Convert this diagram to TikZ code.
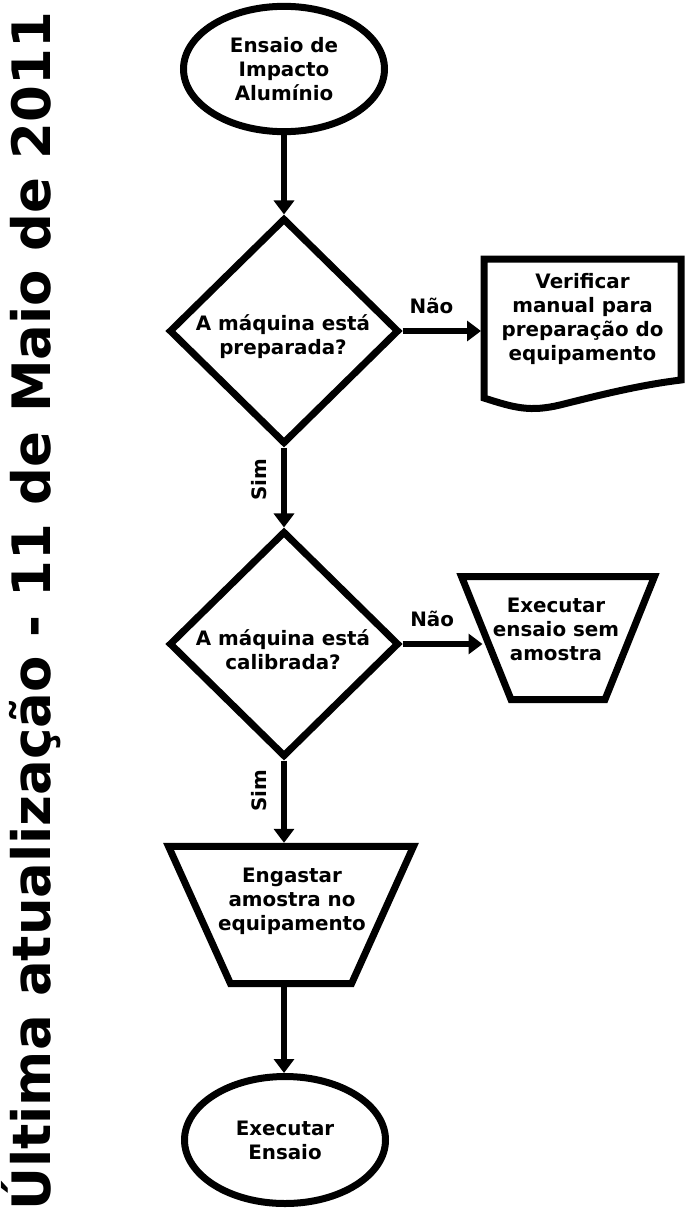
\documentclass[tikz,border=0pt]{standalone}
\usepackage{fontspec}
\setmainfont{DejaVu Sans}
\usetikzlibrary{shapes.geometric, arrows.meta, calc}

\begin{document}
\begin{tikzpicture}[
		x=0.75pt, y=-0.75pt,
		font=\fontsize{14.9pt}{18pt}\selectfont\bfseries,
		% Inicio e fim do ensaio
		terminal/.style={ellipse, draw, line width=5.25pt, inner sep=0pt, minimum width=150.75pt, minimum height=94pt, align=center},
		% Perguntas
		decisao/.style={diamond, draw, line width=5.25pt, inner sep=0pt, minimum width=172.5pt, minimum height=169.5pt},
		% Moldura das operacoes manuais e do documento (contorno desenhado a parte)
		moldura/.style={rectangle, inner sep=0pt, outer sep=0pt},
		contorno/.style={line width=5.25pt},
		texto/.style={align=center, inner sep=0pt},
		% Setas e respostas
		fluxo/.style={line width=4.5pt, -{Triangle[length=10.5pt, width=15pt]}},
		nao/.style={above, inner sep=11pt},
		sim/.style={rotate=90, anchor=south, inner sep=11pt},
		titulo/.style={rotate=90, anchor=base west, inner sep=0pt, font=\fontsize{39.7pt}{48pt}\selectfont\bfseries}
	]
	\useasboundingbox (0,0) rectangle (685,1209);
	
	\node[titulo] (titulo) at (50,1211) {Última atualização - 11 de Maio de 2011};
	
	% Coluna principal
	\node[terminal] (inicio) at (284,69) {Ensaio de\\Impacto\\Alumínio};
	
	\node[decisao] (prep) at (284,331) {};
	\node[texto] (prepTxt) at (283,337) {A máquina está\\preparada?};
	
	\node[decisao] (calib) at (284,644) {};
	\node[texto] (calibTxt) at (283,650) {A máquina está\\calibrada?};
	
	\node[moldura, minimum width=183.75pt, minimum height=103pt] (engastar) at (291,915) {};
	\draw[contorno] (engastar.north west) -- (engastar.north east)
		-- ($(engastar.south east)+(-62,0)$) -- ($(engastar.south west)+(62,0)$) -- cycle;
	\node[texto] (engastarTxt) at (292,901) {Engastar\\amostra no\\equipamento};
	
	\node[terminal, minimum height=95.25pt] (fim) at (285,1140) {Executar\\Ensaio};
	
	% Ramos do "Nao"
	\node[moldura, align=center, minimum width=147.75pt, minimum height=90.75pt] (verif) at (582.5,319.5) {Verificar\\manual para\\preparação do\\equipamento};
	\draw[contorno] (verif.south west) -- (verif.north west) -- (verif.north east) -- (verif.south east)
		.. controls +(-41,5) and +(40,-10) .. ($(verif.south)+(-22.5,25)$)
		.. controls +(-30,7) and +(31,10) .. ($(verif.south west)+(0,18)$) -- cycle;
	
	\node[moldura, minimum width=144.75pt, minimum height=92.25pt] (semAmostra) at (558,638) {};
	\draw[contorno] (semAmostra.north west) -- (semAmostra.north east)
		-- ($(semAmostra.south east)+(-49.5,0)$) -- ($(semAmostra.south west)+(49.5,0)$) -- cycle;
	\node[texto] (semAmostraTxt) at (556,629.5) {Executar\\ensaio sem\\amostra};
	
	% Setas
	\draw[fluxo] (inicio) -- (prep);
	\draw[fluxo] (prep.east) -- node[nao, pos=0.37] {Não} ($(prep.east -| verif.west)+(-3,0)$);
	\draw[fluxo] (prep) -- node[sim, pos=0.4] {Sim} (calib);
	\draw[fluxo] (calib.east) -- node[nao, pos=0.37] {Não} ($(calib.east -| semAmostra.west)+(21,0)$);
	\draw[fluxo] (calib) -- node[sim, pos=0.37] {Sim} ($(calib.south |- engastar.north)+(0,-3.5)$);
	\draw[fluxo] ($(calib.south |- engastar.south)+(0,3.5)$) -- ($(calib.south |- fim.north)$);
\end{tikzpicture}
\end{document}
